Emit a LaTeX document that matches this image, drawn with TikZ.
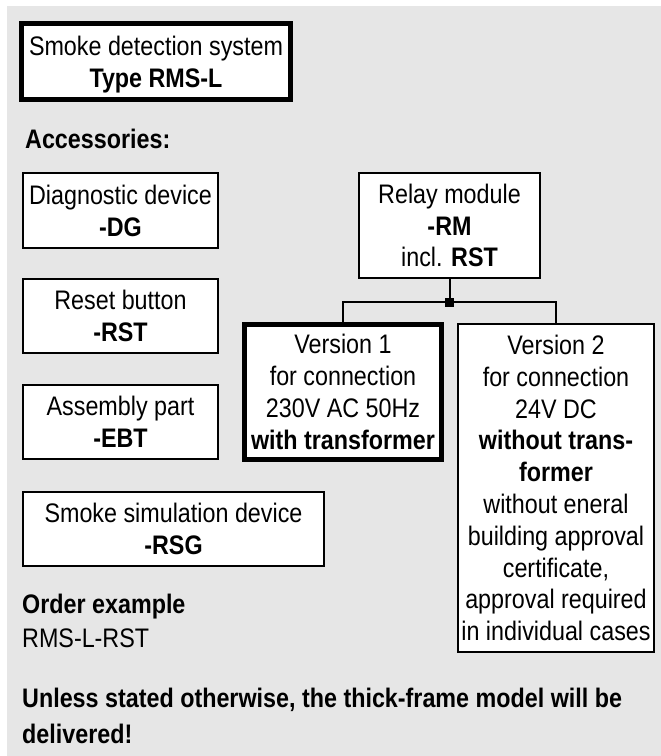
\documentclass[tikz,border=0pt]{standalone}
\usepackage{fontspec}
\setmainfont[FakeStretch=0.87]{Liberation Sans}
\definecolor{panelgray}{HTML}{E6E6E6}
\tikzset{
  x=1pt, y=-1pt,
  txt/.style={font={\fontsize{26.8}{31.8}\selectfont}, inner sep=0pt, text=black},
  thinbox/.style={txt, draw=black, line width=2pt, fill=white, align=center, text depth=0pt},
  thickbox/.style={txt, draw=black, line width=5pt, fill=white, align=center, text depth=0pt},
  conn/.style={draw=black, line width=2pt},
  freetext/.style={txt, anchor=base west},
}
\begin{document}
\begin{tikzpicture}
\useasboundingbox (0,0) rectangle (661,756);
\fill[white] (0,0) rectangle (661,756);
\fill[panelgray] (7,6) rectangle (661,756);

\node[thickbox, minimum width=269pt, minimum height=76pt, text height=51pt] (title) at (156,61.5)
  {Smoke detection system\\\textbf{Type RMS-L}};

\node[freetext] (acc) at (25,148) {\textbf{Accessories:}};

\node[thinbox, minimum width=195pt, minimum height=75pt, text height=51pt] (dg) at (120.5,210.5)
  {Diagnostic device\\\textbf{-DG}};
\node[thinbox, minimum width=195pt, minimum height=74pt, text height=51pt] (rst) at (120.5,316)
  {Reset button\\\textbf{-RST}};
\node[thinbox, minimum width=195pt, minimum height=74pt, text height=51pt] (ebt) at (120.5,422)
  {Assembly part\\\textbf{-EBT}};
\node[thinbox, minimum width=301pt, minimum height=74pt, text height=51pt] (rsg) at (173.5,529)
  {Smoke simulation device\\\textbf{-RSG}};

\node[thinbox, minimum width=181pt, minimum height=105pt, text height=82.8pt] (rm) at (449.5,225.5)
  {Relay module\\\textbf{-RM}\\incl. \textbf{RST}};

\node[thickbox, minimum width=197pt, minimum height=135pt, text height=114.6pt] (v1) at (343,392)
  {Version 1\\for connection\\230V AC 50Hz\\\textbf{with transformer}};

\node[thinbox, minimum width=196pt, minimum height=328pt, text height=305.4pt] (v2) at (556,488)
  {Version 2\\for connection\\24V DC\\\textbf{without trans-}\\\textbf{former}\\without eneral\\building approval\\certificate,\\approval required\\in individual cases};

\coordinate (j) at (449.5,302);
\draw[conn] (rm.south) -- (j);
\draw[conn] (j) -| (v1.north);
\draw[conn] (j) -| (v2.north);
\node[fill=black, minimum size=9pt, inner sep=0pt] (jsq) at (j) {};

\node[freetext] (ord) at (22,613) {\textbf{Order example}};
\node[freetext] (ordex) at (22,647) {RMS-L-RST};

\node[freetext] (note1) at (22,707) {\textbf{Unless stated otherwise, the thick-frame model will be}};
\node[freetext] (note2) at (22,743) {\textbf{delivered!}};
\end{tikzpicture}
\end{document}
